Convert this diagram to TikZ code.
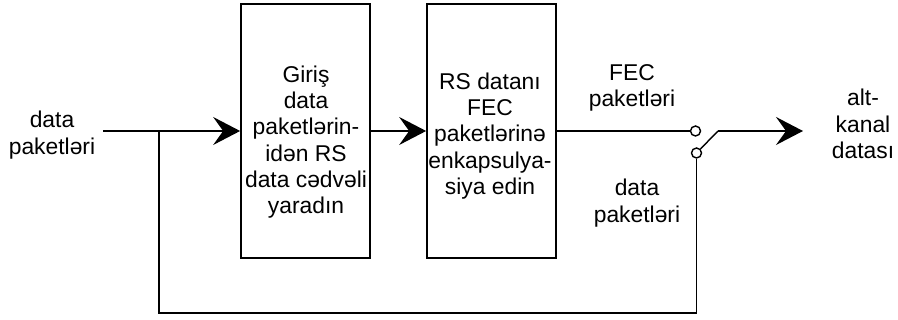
\documentclass[tikz,border=0pt]{standalone}
\usepackage{fontspec}
\setmainfont{Liberation Sans}
\usetikzlibrary{arrows.meta,positioning}

\begin{document}
\begin{tikzpicture}[x=0.02cm,y=0.02cm,>={Stealth[length=5.4mm,width=5.6mm,inset=2mm]},
  line width=0.8pt,
  blok/.style={draw,line width=1pt,minimum width=2.58cm,minimum height=5.08cm,inner sep=0pt},
  yazi/.style={align=center,font=\fontsize{13}{15}\selectfont,inner sep=0pt},
  kontakt/.style={circle,draw,fill=white,minimum size=0.2cm,inner sep=0pt}]

  \useasboundingbox (0,0) rectangle (898,320);

  \node[blok] (cedvel) at (305.5,189) {};
  \node[blok] (enkap) at (491.5,189) {};
  \node[yazi] (cedveltxt) at (306,178) {Giriş\\data\\paketlərin-\\idən RS\\data cədvəli\\yaradın};
  \node[yazi] (enkaptxt) at (490,184) {RS datanı\\FEC\hspace*{0.4cm}\\paketlərinə\\enkapsulya-\\siya edin};

  \node[yazi] (giristxt) at (52,185) {data\\paketləri};
  \node[yazi] (fectxt) at (632,232) {FEC\\paketləri};
  \node[yazi] (datatxt) at (637,117) {data\\paketləri};
  \node[yazi] (cikistxt) at (863,196) {alt-\\kanal\\datası};

  \node[kontakt] (ust) at (695.5,189) {};
  \node[kontakt] (alt) at (696.5,167) {};

  \coordinate (giris) at (103,189);
  \coordinate (ayrilma) at (159,189);
  \coordinate (asagi) at (159,7);
  \coordinate (kol) at (718,189);
  \coordinate (son) at (803,189);

  \draw[->] (giris) -- (cedvel);
  \draw[->] (cedvel) -- (enkap);
  \draw (enkap) -- (ust);
  \draw (alt) -- (kol);
  \draw[->] (kol) -- (son);
  \draw (ayrilma) -- (asagi) -| (alt);
\end{tikzpicture}
\end{document}
